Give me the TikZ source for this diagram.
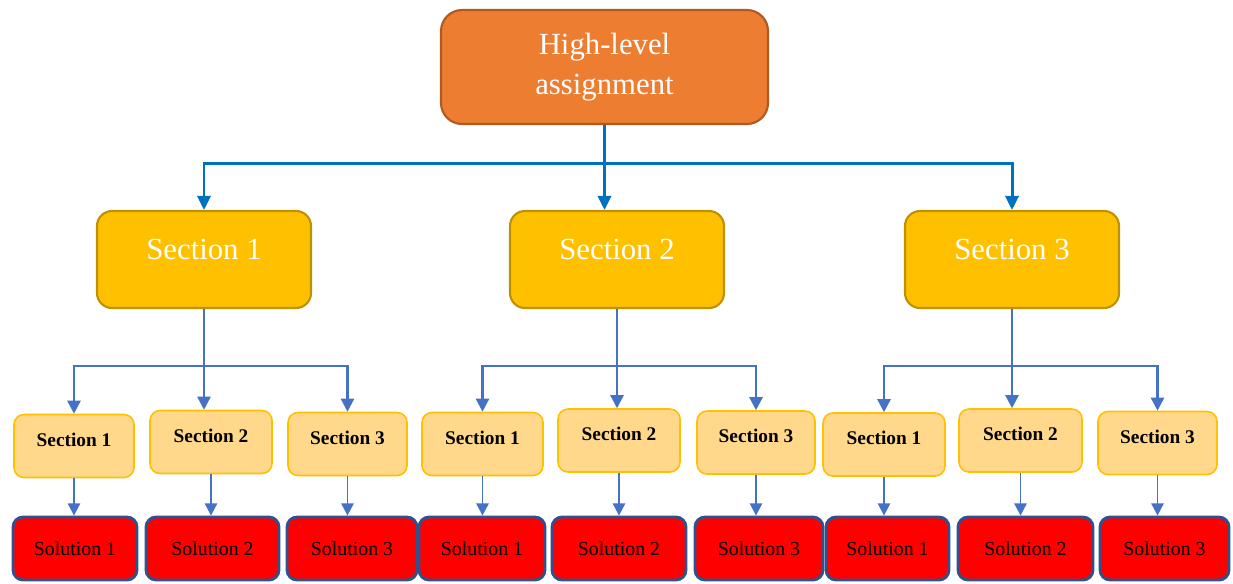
\documentclass[tikz,border=0pt]{standalone}
\usepackage{fontspec}
\setmainfont{Liberation Serif}
\usetikzlibrary{arrows.meta}
\definecolor{topfill}{HTML}{ED7D31}
\definecolor{topline}{HTML}{AE5A21}
\definecolor{secfill}{HTML}{FFC000}
\definecolor{secline}{HTML}{BF9000}
\definecolor{subfill}{HTML}{FFD88C}
\definecolor{subline}{HTML}{FFC000}
\definecolor{solfill}{HTML}{FF0000}
\definecolor{solline}{HTML}{2F528F}
\definecolor{topblue}{HTML}{0070C0}
\definecolor{midblue}{HTML}{4472C4}
\begin{document}
\begin{tikzpicture}[x=0.02cm, y=-0.02cm,
    box/.style={rectangle, inner sep=0pt, align=center},
    topbox/.style={box, fill=topfill, draw=topline, line width=1.2pt, rounded corners=0.42cm,
        minimum width=327*\pxl, minimum height=114*\pxl, text=white, font=\fontsize{17.5}{23}\selectfont},
    secbox/.style={box, fill=secfill, draw=secline, line width=1.2pt, rounded corners=0.3cm,
        minimum width=214*\pxl, minimum height=97*\pxl, text=white, text height=10pt, text depth=10pt,
        font=\fontsize{17.5}{21}\selectfont},
    subbox/.style={box, fill=subfill, draw=subline, line width=0.9pt, rounded corners=0.2cm,
        minimum height=63*\pxl, text height=7pt, text depth=7pt, font=\fontsize{11}{13}\selectfont\bfseries},
    solbox/.style={box, fill=solfill, draw=solline, line width=1.6pt, rounded corners=0.2cm,
        minimum height=63*\pxl, font=\fontsize{11.3}{13}\selectfont},
    toplink/.style={draw=topblue, line width=1.7pt, -{Triangle[width=7.5pt,length=8pt]}},
    midlink/.style={draw=midblue, line width=1.4pt, -{Triangle[width=7.5pt,length=7.5pt]}},
    sublink/.style={draw=midblue, line width=1.1pt, -{Triangle[width=7pt,length=7pt]}}]
    \def\pxl{0.02cm}
    \useasboundingbox (0,0) rectangle (1233,583);
    \node[topbox] (top) at (604.5,67) {High-level\\assignment};
    \node[secbox] (s1) at (204,259.5) {Section 1};
    \node[secbox] (s2) at (617,259.5) {Section 2};
    \node[secbox] (s3) at (1012,259.5) {Section 3};
    \path (top.south) ++(0,38) coordinate (hub0);
    \draw[toplink] (top.south) -- (top.south |- s2.north);
    \draw[toplink] (hub0) -| (s1.north);
    \draw[toplink] (hub0) -| (s3.north);
    \foreach \g/\n/\x/\y/\w in {1/1/74/446/120, 1/2/211/442/122, 1/3/347.5/444/119,
        2/1/482.5/444/121, 2/2/619/440.5/122, 2/3/756/442.5/118,
        3/1/884/444.5/122, 3/2/1020.5/440.5/123, 3/3/1157.5/443/119}{
        \node[subbox, minimum width=\w*\pxl] (sub\g\n) at (\x,\y) {Section \n};
    }
    \foreach \g/\n/\x/\w in {1/1/75/124, 1/2/212.5/133, 1/3/352/130,
        2/1/482/126, 2/2/619/134, 2/3/759/128,
        3/1/887.5/123, 3/2/1025.5/135, 3/3/1164.5/129}{
        \node[solbox, minimum width=\w*\pxl] (sol\g\n) at (\x,548.5) {Solution \n};
        \draw[sublink] (sub\g\n.south) -- (sub\g\n.south |- sol\g\n.north);
    }
    \foreach \g in {1, 2, 3}{
        \path (s\g.south) ++(0,57) coordinate (hub\g);
        \draw[midlink] (s\g.south) -- (s\g.south |- sub\g2.north);
        \draw[midlink] (hub\g) -| (sub\g1.north);
        \draw[midlink] (hub\g) -| (sub\g3.north);
    }
\end{tikzpicture}
\end{document}
